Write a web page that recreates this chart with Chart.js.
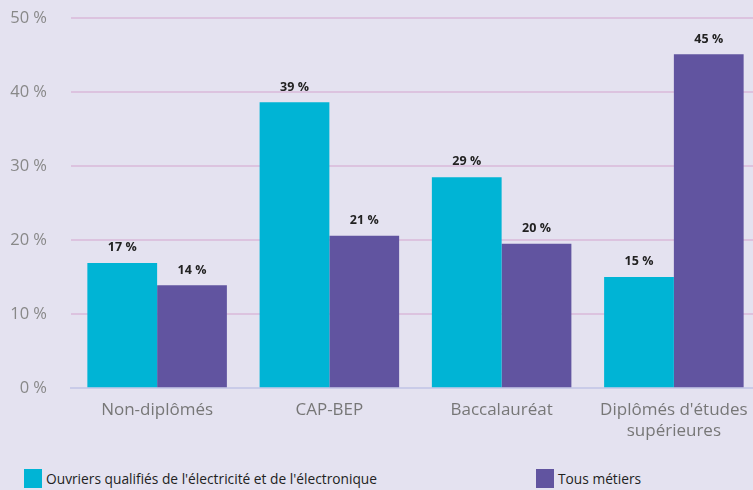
<!DOCTYPE html>
<html>
<head>
<meta charset="utf-8">
<script src="https://cdn.jsdelivr.net/npm/chart.js@4/dist/chart.umd.min.js"></script>
<style>
  html, body { margin: 0; padding: 0; background: #e4e2f0; }
  #wrap { position: relative; width: 753px; height: 490px; overflow: hidden; }
  #c { position: absolute; left: 0; top: -16px; }
  .leg { position: absolute; top: 469px; font: 13.75px "Open Sans", sans-serif; color: #222; display: flex; align-items: center; }
  .leg span.box { display: inline-block; width: 18px; height: 19px; margin-right: 4px; }
</style>
</head>
<body>
<div id="wrap">
  <canvas id="c" width="760" height="471"></canvas>
  <div class="leg" style="left:24px"><span class="box" style="background:#00b4d5"></span>Ouvriers qualifiés de l'électricité et de l'électronique</div>
  <div class="leg" style="left:536px"><span class="box" style="background:#6154a0"></span>Tous métiers</div>
</div>
<script>
const categories = ['Non-diplômés', 'CAP-BEP', 'Baccalauréat', ["Diplômés d'études", 'supérieures']];
const ouvriers = [16.9, 38.6, 28.5, 15.0];
const tousMetiers = [13.9, 20.6, 19.5, 45.1];
const yTicks = [0, 10, 20, 30, 40, 50];

const valueLabels = {
  id: 'valueLabels',
  afterDatasetsDraw(chart) {
    const { ctx } = chart;
    ctx.save();
    ctx.font = 'bold 12.5px "Open Sans", sans-serif';
    ctx.fillStyle = '#222';
    ctx.textAlign = 'center';
    ctx.textBaseline = 'bottom';
    chart.data.datasets.forEach((ds, i) => {
      chart.getDatasetMeta(i).data.forEach((bar, j) => {
        ctx.fillText(Math.round(ds.data[j]) + ' %', bar.x, bar.y - 9);
      });
    });
    ctx.restore();
  },
};

new Chart(document.getElementById('c'), {
  type: 'bar',
  data: {
    labels: categories,
    datasets: [
      { label: "Ouvriers qualifiés de l'électricité et de l'électronique", data: ouvriers, backgroundColor: '#00b4d5' },
      { label: 'Tous métiers', data: tousMetiers, backgroundColor: '#6154a0' },
    ],
  },
  options: {
    responsive: false,
    animation: false,
    layout: { padding: { top: 3, right: 0, left: 0, bottom: 2 } },
    categoryPercentage: 0.81,
    barPercentage: 1,
    plugins: {
      legend: { display: false },
      tooltip: { enabled: false },
    },
    scales: {
      x: {
        grid: { display: false, drawTicks: false },
        border: { color: '#c9cbe8', width: 2 },
        ticks: { color: '#777', font: { family: 'Open Sans', size: 17 }, padding: 12, maxRotation: 0 },
      },
      y: {
        min: 0,
        max: 50,
        afterFit(scale) { scale.width = 71; },
        afterBuildTicks(scale) { scale.ticks = yTicks.map(v => ({ value: v })); },
        grid: { color: '#dcc3df', lineWidth: 2, drawTicks: false },
        border: { display: false },
        ticks: {
          color: '#888',
          font: { family: 'Open Sans', size: 16.5 },
          padding: 24,
          callback: v => v + ' %',
        },
      },
    },
  },
  plugins: [valueLabels],
});
</script>
</body>
</html>
